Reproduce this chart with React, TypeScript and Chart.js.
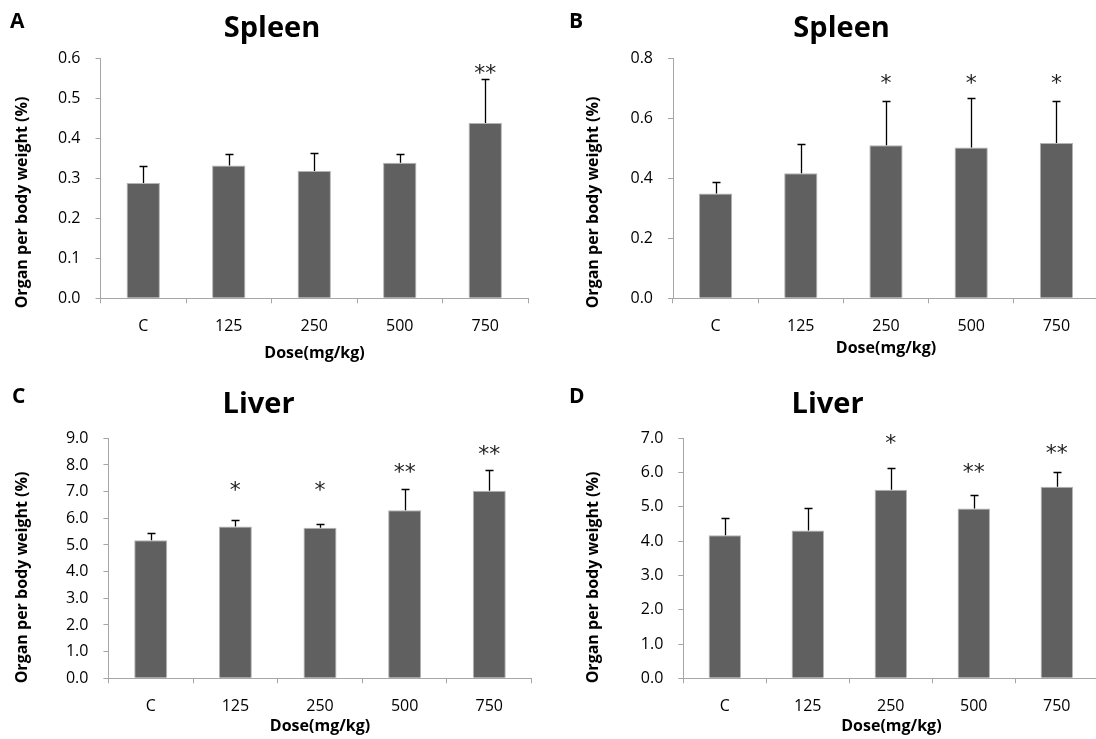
import React, { useEffect, useRef } from "react";
import { Chart, registerables } from "chart.js";

Chart.register(...registerables);

// ---------- DATA ----------
const categories = ["C", "125", "250", "500", "750"];

const spleenAMean = [0.288, 0.332, 0.318, 0.339, 0.438];
const spleenASD = [0.043, 0.030, 0.046, 0.023, 0.110];
const spleenASig = ["", "", "", "", "**"];
const spleenASigAt = [0, 0, 0, 0, 0.575];

const spleenBMean = [0.349, 0.417, 0.510, 0.503, 0.518];
const spleenBSD = [0.039, 0.098, 0.147, 0.165, 0.139];
const spleenBSig = ["", "", "*", "*", "*"];
const spleenBSigAt = [0, 0, 0.734, 0.734, 0.734];

const liverCMean = [5.18, 5.69, 5.65, 6.30, 7.03];
const liverCSD = [0.27, 0.26, 0.15, 0.80, 0.77];
const liverCSig = ["", "*", "*", "**", "**"];
const liverCSigAt = [0, 7.25, 7.25, 7.93, 8.62];

const liverDMean = [4.17, 4.31, 5.50, 4.95, 5.59];
const liverDSD = [0.51, 0.65, 0.62, 0.40, 0.42];
const liverDSig = ["", "", "*", "**", "**"];
const liverDSigAt = [0, 0, 7.0, 6.17, 6.71];

const yTitle = "Organ per body weight (%)";
const xTitle = "Dose(mg/kg)";

// ---------- STYLE / LAYOUT ----------
const BAR = "#606060";
const BAR_EDGE = "#b4b4b4";
const AXIS = "#a6a6a6";
const FONT = "'Open Sans', 'DejaVu Sans', sans-serif";

type PanelCfg = {
  letter: string;
  title: string;
  mean: number[];
  sd: number[];
  sig: string[];
  sigAt: number[];
  yMax: number;
  yStep: number;
  box: { left: number; top: number; w: number; h: number };
  area: { l: number; r: number; t: number; b: number };
  letterPos: [number, number];
  titlePos: [number, number];
  yTitlePos: [number, number];
  xTitlePos: [number, number];
};

const panels: PanelCfg[] = [
  {
    letter: "A",
    title: "Spleen",
    mean: spleenAMean,
    sd: spleenASD,
    sig: spleenASig,
    sigAt: spleenASigAt,
    yMax: 0.6,
    yStep: 0.1,
    box: { left: 0, top: 0, w: 548, h: 370 },
    area: { l: 100.5, r: 528, t: 58.3, b: 298.3 },
    letterPos: [10, 28.3],
    titlePos: [272, 36.7],
    yTitlePos: [22.7, 202.5],
    xTitlePos: [314.5, 358],
  },
  {
    letter: "B",
    title: "Spleen",
    mean: spleenBMean,
    sd: spleenBSD,
    sig: spleenBSig,
    sigAt: spleenBSigAt,
    yMax: 0.8,
    yStep: 0.2,
    box: { left: 548, top: 0, w: 552, h: 370 },
    area: { l: 125, r: 551, t: 58.3, b: 298.3 },
    letterPos: [21, 28.3],
    titlePos: [293.6, 36.7],
    yTitlePos: [45.4, 202.5],
    xTitlePos: [338, 353],
  },
  {
    letter: "C",
    title: "Liver",
    mean: liverCMean,
    sd: liverCSD,
    sig: liverCSig,
    sigAt: liverCSigAt,
    yMax: 9,
    yStep: 1,
    box: { left: 0, top: 370, w: 548, h: 369 },
    area: { l: 108.4, r: 531.6, t: 68.3, b: 308.3 },
    letterPos: [12, 33.3],
    titlePos: [258.6, 43.3],
    yTitlePos: [22.7, 207.5],
    xTitlePos: [320, 361],
  },
  {
    letter: "D",
    title: "Liver",
    mean: liverDMean,
    sd: liverDSD,
    sig: liverDSig,
    sigAt: liverDSigAt,
    yMax: 7,
    yStep: 1,
    box: { left: 548, top: 370, w: 552, h: 369 },
    area: { l: 135.3, r: 550.3, t: 68.3, b: 308.3 },
    letterPos: [21, 33.3],
    titlePos: [279.6, 43.3],
    yTitlePos: [45.4, 207.5],
    xTitlePos: [343.4, 361],
  },
];

function Panel({ cfg }: { cfg: PanelCfg }) {
  const ref = useRef<HTMLCanvasElement | null>(null);

  useEffect(() => {
    const canvas = ref.current;
    if (!canvas) return;

    const decor = {
      id: "decor",
      afterDatasetsDraw(chart: any) {
        const ctx = chart.ctx as CanvasRenderingContext2D;
        const y = chart.scales.y;
        const meta = chart.getDatasetMeta(0);
        ctx.save();
        // error bars (upper only)
        ctx.strokeStyle = "#000";
        ctx.lineWidth = 1.3;
        meta.data.forEach((bar: any, i: number) => {
          const x = Math.round(bar.x) + 0.5;
          const y0 = y.getPixelForValue(cfg.mean[i]);
          const y1 = Math.round(y.getPixelForValue(cfg.mean[i] + cfg.sd[i])) + 0.5;
          ctx.beginPath();
          ctx.moveTo(x, y0);
          ctx.lineTo(x, y1);
          ctx.moveTo(x - 4, y1);
          ctx.lineTo(x + 4, y1);
          ctx.stroke();
        });
        // significance marks
        ctx.fillStyle = "#222";
        ctx.font = "22px 'DejaVu Sans', sans-serif";
        ctx.textAlign = "center";
        ctx.textBaseline = "alphabetic";
        meta.data.forEach((bar: any, i: number) => {
          if (!cfg.sig[i]) return;
          const cy = y.getPixelForValue(cfg.sigAt[i]);
          ctx.fillText(cfg.sig[i], bar.x, cy + 0.55 * 22);
        });
        ctx.restore();
      },
      afterDraw(chart: any) {
        const ctx = chart.ctx as CanvasRenderingContext2D;
        ctx.save();
        ctx.fillStyle = "#000";
        // panel letter
        ctx.font = `bold 21px ${FONT}`;
        ctx.textAlign = "left";
        ctx.textBaseline = "alphabetic";
        ctx.fillText(cfg.letter, cfg.letterPos[0], cfg.letterPos[1]);
        // title
        ctx.font = `bold 29px ${FONT}`;
        ctx.textAlign = "center";
        ctx.fillText(cfg.title, cfg.titlePos[0], cfg.titlePos[1]);
        // x title
        ctx.font = `bold 16px ${FONT}`;
        ctx.fillText(xTitle, cfg.xTitlePos[0], cfg.xTitlePos[1]);
        // y title
        ctx.translate(cfg.yTitlePos[0], cfg.yTitlePos[1]);
        ctx.rotate(-Math.PI / 2);
        ctx.textBaseline = "middle";
        ctx.fillText(yTitle, 0, 0);
        ctx.restore();
      },
    };

    const { w, h } = cfg.box;
    const { l, r, t, b } = cfg.area;

    const chart = new Chart(canvas, {
      type: "bar",
      data: {
        labels: categories,
        datasets: [
          {
            data: cfg.mean,
            backgroundColor: BAR,
            borderColor: BAR_EDGE,
            borderWidth: 1,
            barPercentage: 0.39,
            categoryPercentage: 1,
          },
        ],
      },
      options: {
        responsive: false,
        animation: false,
        devicePixelRatio: 1,
        layout: { padding: { left: 0, top: t, right: w - r, bottom: 0 } },
        plugins: {
          legend: { display: false },
          title: { display: false },
          tooltip: { enabled: false },
        },
        scales: {
          x: {
            offset: true,
            grid: {
              display: true,
              offset: true,
              drawOnChartArea: false,
              drawTicks: true,
              tickLength: 5,
              color: AXIS,
            },
            border: { display: true, color: AXIS, width: 1 },
            ticks: {
              color: "#000",
              font: { family: FONT, size: 16 },
              padding: 14,
              maxRotation: 0,
              autoSkip: false,
            },
            afterFit: (s: any) => {
              s.height = h - b;
            },
          },
          y: {
            min: 0,
            max: cfg.yMax,
            grid: {
              display: true,
              drawOnChartArea: false,
              drawTicks: true,
              tickLength: 5,
              color: AXIS,
            },
            border: { display: true, color: AXIS, width: 1 },
            ticks: {
              stepSize: cfg.yStep,
              color: "#000",
              font: { family: FONT, size: 16 },
              padding: 15,
              callback: (v: any) => Number(v).toFixed(1),
            },
            afterFit: (s: any) => {
              s.width = l;
            },
          },
        },
      },
      plugins: [decor],
    });

    return () => chart.destroy();
  }, [cfg]);

  return (
    <canvas
      ref={ref}
      width={cfg.box.w}
      height={cfg.box.h}
      style={{
        position: "absolute",
        left: cfg.box.left,
        top: cfg.box.top,
        width: cfg.box.w,
        height: cfg.box.h,
      }}
    />
  );
}

export default function App() {
  return (
    <div
      style={{
        position: "fixed",
        left: 0,
        top: 0,
        width: 1096,
        height: 739,
        overflow: "hidden",
        background: "#fff",
      }}
    >
      {panels.map((p) => (
        <Panel key={p.letter} cfg={p} />
      ))}
    </div>
  );
}
